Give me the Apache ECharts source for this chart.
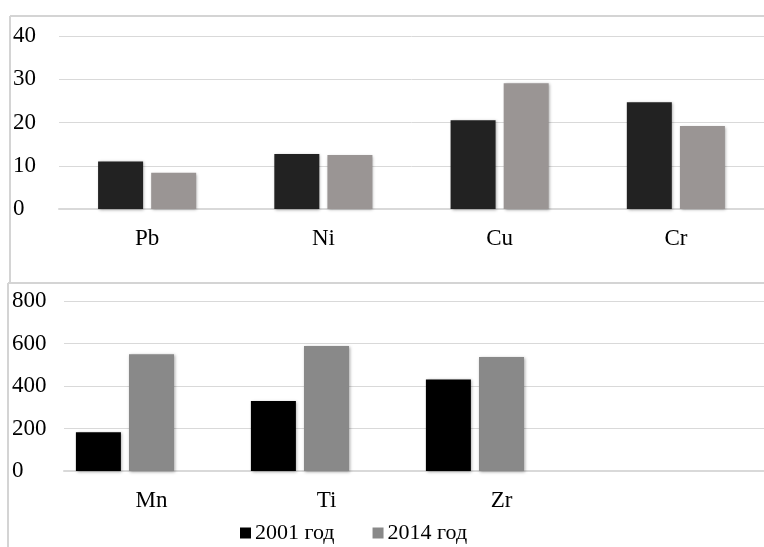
<!doctype html>
<html>

<head>
  <meta charset="utf-8">
  <title>Pb Ni Cu Cr / Mn Ti Zr</title>
  <script src="https://cdn.jsdelivr.net/npm/echarts@6/dist/echarts.min.js"></script>
  <style>
    html,
    body {
      width: 100%;
      height: 100%;
      background-color: #fff;
      padding: 0;
      margin: 0;
    }

    #main {
      width: 764px;
      height: 547px;
    }
  </style>
</head>

<body>
  <div id="main"></div>
</body>

<script type="text/javascript">
  // верхняя диаграмма
  var topCats = ['Pb', 'Ni', 'Cu', 'Cr'];
  var top2001 = [11, 12.7, 20.5, 24.7];
  var top2014 = [8.4, 12.5, 29.1, 19.2];
  var topTicks = [0, 10, 20, 30, 40];

  // нижняя диаграмма (4-я категория пустая)
  var botCats = ['Mn', 'Ti', 'Zr', ''];
  var bot2001 = [182, 329, 431, null];
  var bot2014 = [549, 588, 536, null];
  var botExtra = [null, null, null, null];
  var botTicks = [0, 200, 400, 600, 800];

  var names = ['2001 год', '2014 год'];

  var font = 'Liberation Serif';
  var gridColor = '#d9d9d9';
  var shadow = {
    shadowBlur: 3,
    shadowColor: 'rgba(0,0,0,0.35)',
    shadowOffsetX: 1,
    shadowOffsetY: 1
  };

  function barSeries(name, data, color, xi) {
    return {
      name: name,
      type: 'bar',
      xAxisIndex: xi,
      yAxisIndex: xi,
      data: data,
      barWidth: 45,
      barGap: '18%',
      itemStyle: Object.assign({ color: color }, shadow)
    };
  }

  function yAx(ticks, gi, margin) {
    return {
      type: 'value',
      gridIndex: gi,
      min: ticks[0],
      max: ticks[ticks.length - 1],
      interval: ticks[1] - ticks[0],
      axisLine: { show: false },
      axisTick: { show: false },
      axisLabel: {
        color: '#000', fontFamily: font, fontSize: 23,
        align: 'left', margin: margin
      },
      splitLine: { lineStyle: { color: gridColor, width: 1 } }
    };
  }

  function xAx(cats, gi) {
    return {
      type: 'category',
      gridIndex: gi,
      data: cats,
      axisTick: { show: false },
      axisLine: { lineStyle: { color: gridColor, width: 2 } },
      axisLabel: {
        color: '#000', fontFamily: font, fontSize: 23, margin: 18
      }
    };
  }

  var option = {
    animation: false,
    grid: [
      { left: 59, top: 36, width: 712, height: 173 },
      { left: 64, top: 301, width: 710, height: 170 }
    ],
    xAxis: [xAx(topCats, 0), xAx(botCats, 1)],
    yAxis: [yAx(topTicks, 0, 46), yAx(botTicks, 1, 52)],
    legend: {
      data: names,
      left: 235,
      top: 517,
      itemWidth: 11,
      itemHeight: 11,
      itemGap: 38,
      icon: 'rect',
      textStyle: { fontFamily: font, fontSize: 22, color: '#000', padding: [0, 0, 0, -1] }
    },
    graphic: [
      // рамки
      { type: 'line', shape: { x1: 10, y1: 16, x2: 764, y2: 16 }, style: { stroke: '#d4d4d4', lineWidth: 2 } },
      { type: 'line', shape: { x1: 10, y1: 16, x2: 10, y2: 283 }, style: { stroke: '#d4d4d4', lineWidth: 2 } },
      { type: 'line', shape: { x1: 8, y1: 283, x2: 764, y2: 283 }, style: { stroke: '#d4d4d4', lineWidth: 2 } },
      { type: 'line', shape: { x1: 8, y1: 283, x2: 8, y2: 547 }, style: { stroke: '#d4d4d4', lineWidth: 2 } }
    ],
    series: [
      barSeries('2001 год ', top2001, '#222222', 0),
      barSeries('2014 год ', top2014, '#9a9594', 0),
      barSeries(names[0], bot2001, '#000000', 1),
      barSeries(names[1], bot2014, '#898989', 1),
      barSeries('', botExtra, 'transparent', 1)
    ]
  };

  var myChart = echarts.init(document.getElementById('main'));
  myChart.setOption(option);
</script>

</html>
